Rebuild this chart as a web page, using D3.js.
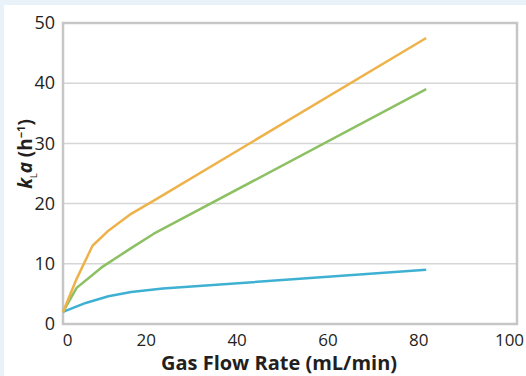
<!DOCTYPE html>
<html>
<head>
<meta charset="utf-8">
<script src="https://cdn.jsdelivr.net/npm/d3@7"></script>
<style>
  body { margin: 0; background: #e9f1f9; }
  #chart { position: absolute; left: 4px; top: 5px; width: 522px; height: 371px; background: #fff; }
  text { font-family: "Open Sans", "Noto Sans", sans-serif; fill: #231f20; }
</style>
</head>
<body>
<div id="chart"></div>
<script>
// x: gas flow rate (mL/min), y: kLa (h^-1)
var orangeX = [0, 3, 6.5, 10, 15, 20, 80];
var orangeY = [2, 7.5, 13, 15.5, 18.3, 20.5, 47.5];
var greenX = [0, 3, 8.5, 15, 20, 80];
var greenY = [2, 6, 9.4, 12.6, 15, 39];
var blueX = [0, 5, 10, 15, 22, 80];
var blueY = [2, 3.5, 4.6, 5.3, 5.9, 9];
var xTicks = [0, 20, 40, 60, 80, 100];
var yTicks = [0, 10, 20, 30, 40, 50];

var W = 526, H = 376;
var margin = {top: 23, right: 9, bottom: 52, left: 63};
var width = W - margin.left - margin.right;
var height = H - margin.top - margin.bottom;

var svg = d3.select("body").append("svg")
    .attr("width", W)
    .attr("height", H)
    .style("position", "absolute")
    .style("left", "0px")
    .style("top", "0px");

var g = svg.append("g")
    .attr("transform", "translate(" + margin.left + "," + margin.top + ")");

var x = d3.scaleLinear().domain([0, 100]).range([0, width]);
var y = d3.scaleLinear().domain([0, 50]).range([height, 0]);

// grid lines
g.selectAll(".grid")
    .data(yTicks.slice(1, -1))
    .enter().append("line")
    .attr("x1", 0).attr("x2", width)
    .attr("y1", d => y(d)).attr("y2", d => y(d))
    .attr("stroke", "#d6d6d6")
    .attr("stroke-width", 1.5);

// frame
g.append("rect")
    .attr("width", width).attr("height", height)
    .attr("fill", "none")
    .attr("stroke", "#c6c6c6")
    .attr("stroke-width", 2.5);

var yAxis = d3.axisLeft(y).tickValues(yTicks).tickSize(0).tickPadding(8);
g.append("g").call(yAxis)
    .call(a => a.select(".domain").remove())
    .selectAll("text")
    .style("font-size", "18px")
    .attr("fill", "#231f20");

var xAxis = d3.axisBottom(x).tickValues(xTicks).tickSize(0).tickPadding(10);
g.append("g").attr("transform", "translate(0," + height + ")").call(xAxis)
    .call(a => a.select(".domain").remove())
    .selectAll("text")
    .style("font-size", "17px")
    .attr("fill", "#231f20")
    .attr("dx", d => d === 0 ? 4 : -8);

var line = d3.line()
    .x(d => x(d[0]))
    .y(d => y(d[1]));

var series = [
    {xs: blueX, ys: blueY, color: "#3eb1d3"},
    {xs: greenX, ys: greenY, color: "#8cc063"},
    {xs: orangeX, ys: orangeY, color: "#eeb24a"}
];

series.forEach(function(s){
    g.append("path")
        .datum(d3.zip(s.xs, s.ys))
        .attr("d", line)
        .attr("fill", "none")
        .attr("stroke", s.color)
        .attr("stroke-width", 2.5)
        .attr("stroke-linejoin", "round");
});

// axis titles
svg.append("text")
    .attr("x", 279).attr("y", 370)
    .attr("text-anchor", "middle")
    .style("font-size", "20px")
    .style("font-weight", "bold")
    .text("Gas Flow Rate (mL/min)");

var yl = svg.append("text")
    .attr("transform", "translate(32,154) rotate(-90)")
    .attr("text-anchor", "middle")
    .style("font-size", "19px")
    .style("font-weight", "bold");
yl.append("tspan").style("font-style", "italic").text("k");
yl.append("tspan").attr("dy", 5).style("font-size", "9px").style("font-weight", "normal").text("L");
yl.append("tspan").attr("dy", -5).style("font-style", "italic").text("a");
yl.append("tspan").text(" (h");
yl.append("tspan").attr("dy", -7).style("font-size", "11px").text("\u22121");
yl.append("tspan").attr("dy", 7).text(")");
</script>
</body>
</html>
